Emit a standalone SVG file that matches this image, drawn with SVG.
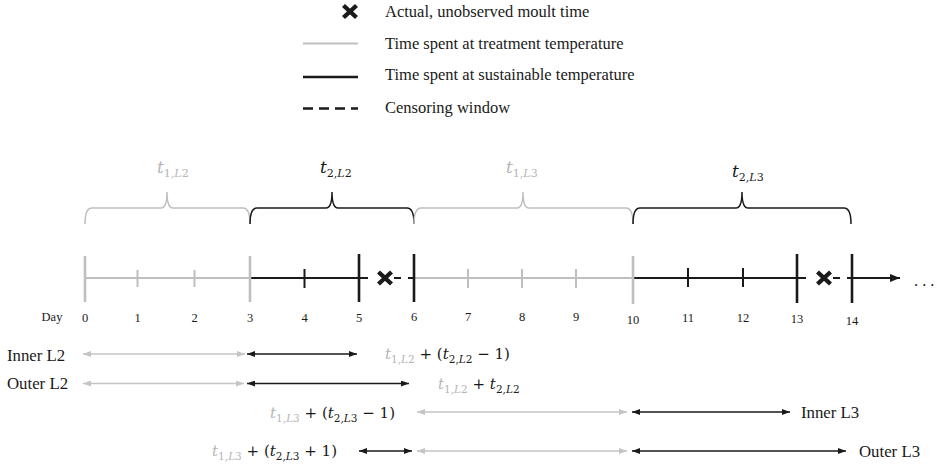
<svg xmlns="http://www.w3.org/2000/svg" width="937" height="466" viewBox="0 0 937 466">
<style>
  .lg { font-family: "Liberation Serif", "Times New Roman", serif; font-size: 16.5px; fill: #1a1a1a; }
  .rl { font-family: "Liberation Serif", "Times New Roman", serif; font-size: 16.8px; fill: #1a1a1a; }
  .day { font-family: "Liberation Serif", "Times New Roman", serif; font-size: 12.5px; fill: #1a1a1a; text-anchor: middle; }
  .m { font-family: "DejaVu Serif", serif; font-size: 15px; fill: #1a1a1a; }
  .mb { font-family: "DejaVu Serif", serif; font-size: 17px; fill: #1a1a1a; }
  .g { fill: #b5b5b5; }
  .i { font-style: italic; }
  .s { font-size: 10.5px; }
  .sb { font-size: 11px; }
  .gl { stroke: #bfbfbf; fill: none; }
  .bl { stroke: #1a1a1a; fill: none; }
  .ax { stroke-width: 2; }
  .big { stroke-width: 2.6; }
  .mn { stroke-width: 2; }
  .br { stroke-width: 1.5; }
  .ag { stroke: #c4c4c4; stroke-width: 1.3; marker-start: url(#hg); marker-end: url(#hg); }
  .ab { stroke: #1a1a1a; stroke-width: 1.3; marker-start: url(#hb); marker-end: url(#hb); }
</style>
<defs>
  <marker id="hg" viewBox="0 0 8 6" refX="8" refY="3" markerWidth="8" markerHeight="6" markerUnits="userSpaceOnUse" orient="auto-start-reverse">
    <path d="M0,0 L8,3 L0,6 Z" fill="#c4c4c4"/>
  </marker>
  <marker id="hb" viewBox="0 0 8 6" refX="8" refY="3" markerWidth="8" markerHeight="6" markerUnits="userSpaceOnUse" orient="auto-start-reverse">
    <path d="M0,0 L8,3 L0,6 Z" fill="#1a1a1a"/>
  </marker>
  <marker id="ha" viewBox="0 0 10 8" refX="10" refY="4" markerWidth="10" markerHeight="8" markerUnits="userSpaceOnUse" orient="auto">
    <path d="M0,0 L10,4 L0,8 Z" fill="#1a1a1a"/>
  </marker>
  <g id="xm">
    <path d="M-6.5,-6 L6.5,6 M-6.5,6 L6.5,-6" stroke="#1a1a1a" stroke-width="4.4" fill="none"/>
  </g>
</defs>

<g id="legend">
  <use href="#xm" x="350" y="11.5"/>
  <text class="lg" x="385" y="16.5">Actual, unobserved moult time</text>
  <line x1="303" y1="43.5" x2="358" y2="43.5" class="gl" stroke-width="2"/>
  <text class="lg" x="385" y="48.5">Time spent at treatment temperature</text>
  <line x1="303" y1="77" x2="358" y2="77" class="bl" stroke-width="2.4"/>
  <text class="lg" x="385" y="80">Time spent at sustainable temperature</text>
  <line x1="303" y1="108.5" x2="358" y2="108.5" class="bl" stroke-width="2.4" stroke-dasharray="10 6"/>
  <text class="lg" x="385" y="113">Censoring window</text>
</g>

<g id="braces">
  <path class="gl br" d="M85,224 Q85,208 92,208 L161,208 Q167,208 167,192 Q167,208 173,208 L243,208 Q250,208 250,224"/>
  <path class="bl br" d="M250,224 Q250,208 257,208 L326,208 Q332,208 332,192 Q332,208 338,208 L407,208 Q414,208 414,224"/>
  <path class="gl br" d="M414,224 Q414,208 421,208 L517,208 Q523,208 523,192 Q523,208 529,208 L626,208 Q633,208 633,224"/>
  <path class="bl br" d="M633,224 Q633,208 640,208 L736,208 Q742,208 742,192 Q742,208 748,208 L844,208 Q851,208 851,224"/>
  <text class="mb g" x="157" y="173"><tspan class="i">t</tspan><tspan class="sb" dy="4">1,</tspan><tspan class="sb i">L</tspan><tspan class="sb">2</tspan></text>
  <text class="mb" x="320" y="173"><tspan class="i">t</tspan><tspan class="sb" dy="4">2,</tspan><tspan class="sb i">L</tspan><tspan class="sb">2</tspan></text>
  <text class="mb g" x="506" y="173"><tspan class="i">t</tspan><tspan class="sb" dy="4">1,</tspan><tspan class="sb i">L</tspan><tspan class="sb">3</tspan></text>
  <text class="mb" x="732" y="177"><tspan class="i">t</tspan><tspan class="sb" dy="4">2,</tspan><tspan class="sb i">L</tspan><tspan class="sb">3</tspan></text>
</g>

<g id="timeline">
  <line class="gl ax" x1="85" y1="278" x2="250" y2="278"/>
  <line class="bl ax" x1="250" y1="278" x2="359" y2="278"/>
  <line class="gl ax" x1="414" y1="278" x2="633" y2="278"/>
  <line class="bl ax" x1="633" y1="278" x2="797" y2="278"/>
  <!-- censoring windows -->
  <line class="bl ax" x1="359" y1="278" x2="368" y2="278"/>
  <line class="bl ax" x1="394" y1="278" x2="401" y2="278"/>
  <line class="bl ax" x1="408" y1="278" x2="414" y2="278"/>
  <use href="#xm" x="385" y="278"/>
  <line class="bl ax" x1="797" y1="278" x2="806" y2="278"/>
  <line class="bl ax" x1="833" y1="278" x2="840" y2="278"/>
  <line class="bl ax" x1="847" y1="278" x2="852" y2="278"/>
  <use href="#xm" x="824" y="278"/>
  <line class="bl ax" x1="852" y1="278" x2="900" y2="278" marker-end="url(#ha)"/>
  <!-- ticks -->
  <line class="gl big" x1="85" y1="256" x2="85" y2="302"/>
  <line class="gl mn" x1="137.5" y1="270" x2="137.5" y2="287"/>
  <line class="gl mn" x1="194.5" y1="270" x2="194.5" y2="287"/>
  <line class="gl big" x1="250" y1="256" x2="250" y2="302"/>
  <line class="bl mn" x1="304.5" y1="269" x2="304.5" y2="288"/>
  <line class="bl big" x1="359" y1="254" x2="359" y2="302"/>
  <line class="bl big" x1="414" y1="254" x2="414" y2="302"/>
  <line class="gl mn" x1="468" y1="269" x2="468" y2="288"/>
  <line class="gl mn" x1="522" y1="269" x2="522" y2="288"/>
  <line class="gl mn" x1="576" y1="269" x2="576" y2="288"/>
  <line class="gl big" x1="633" y1="256" x2="633" y2="304"/>
  <line class="bl mn" x1="688" y1="268" x2="688" y2="287"/>
  <line class="bl mn" x1="743" y1="268" x2="743" y2="287"/>
  <line class="bl big" x1="797" y1="254" x2="797" y2="303"/>
  <line class="bl big" x1="852" y1="254" x2="852" y2="303"/>
  <text class="lg" x="914" y="286" letter-spacing="4">...</text>
  <!-- labels -->
  <text class="day" x="52" y="321">Day</text>
  <text class="day" x="85" y="322">0</text>
  <text class="day" x="137.5" y="322">1</text>
  <text class="day" x="194.5" y="322">2</text>
  <text class="day" x="250" y="322">3</text>
  <text class="day" x="304.5" y="322">4</text>
  <text class="day" x="359" y="322">5</text>
  <text class="day" x="414" y="321">6</text>
  <text class="day" x="468" y="321">7</text>
  <text class="day" x="522" y="321">8</text>
  <text class="day" x="576" y="321">9</text>
  <text class="day" x="633" y="324">10</text>
  <text class="day" x="688" y="322">11</text>
  <text class="day" x="743" y="322">12</text>
  <text class="day" x="797" y="323">13</text>
  <text class="day" x="852" y="325">14</text>
</g>

<g id="connectors">
  <line class="ag" x1="83" y1="354" x2="245" y2="354"/>
  <line class="ab" x1="247" y1="354" x2="357" y2="354"/>
  <line class="ag" x1="83" y1="383.5" x2="244" y2="383.5"/>
  <line class="ab" x1="247" y1="383.5" x2="409" y2="383.5"/>
  <line class="ag" x1="417" y1="412" x2="627" y2="412"/>
  <line class="ab" x1="632" y1="412" x2="790" y2="412"/>
  <line class="ab" x1="359" y1="451" x2="412" y2="451"/>
  <line class="ag" x1="417" y1="451" x2="627" y2="451"/>
  <line class="ab" x1="632" y1="451" x2="846" y2="451"/>
</g>

<g id="rowlabels">
  <text class="rl" x="7" y="361">Inner L2</text>
  <text class="rl" x="7" y="389">Outer L2</text>
  <text class="rl" x="801" y="418">Inner L3</text>
  <text class="rl" x="859" y="457">Outer L3</text>
</g>

<g id="formulas">
  <text class="m" x="385" y="359"><tspan class="g i">t</tspan><tspan class="g s" dy="4">1,</tspan><tspan class="g s i">L</tspan><tspan class="g s">2</tspan><tspan dy="-4"> + (</tspan><tspan class="i">t</tspan><tspan class="s" dy="4">2,</tspan><tspan class="s i">L</tspan><tspan class="s">2</tspan><tspan dy="-4"> − 1)</tspan></text>
  <text class="m" x="438" y="389"><tspan class="g i">t</tspan><tspan class="g s" dy="4">1,</tspan><tspan class="g s i">L</tspan><tspan class="g s">2</tspan><tspan dy="-4"> + </tspan><tspan class="i">t</tspan><tspan class="s" dy="4">2,</tspan><tspan class="s i">L</tspan><tspan class="s">2</tspan></text>
  <text class="m" x="395" y="418" text-anchor="end"><tspan class="g i">t</tspan><tspan class="g s" dy="4">1,</tspan><tspan class="g s i">L</tspan><tspan class="g s">3</tspan><tspan dy="-4"> + (</tspan><tspan class="i">t</tspan><tspan class="s" dy="4">2,</tspan><tspan class="s i">L</tspan><tspan class="s">3</tspan><tspan dy="-4"> − 1)</tspan></text>
  <text class="m" x="337" y="456" text-anchor="end"><tspan class="g i">t</tspan><tspan class="g s" dy="4">1,</tspan><tspan class="g s i">L</tspan><tspan class="g s">3</tspan><tspan dy="-4"> + (</tspan><tspan class="i">t</tspan><tspan class="s" dy="4">2,</tspan><tspan class="s i">L</tspan><tspan class="s">3</tspan><tspan dy="-4"> + 1)</tspan></text>
</g>
</svg>
